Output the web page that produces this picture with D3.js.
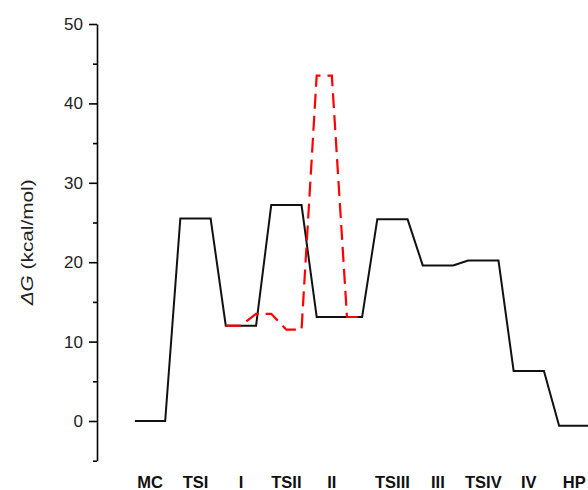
<!DOCTYPE html>
<html>
<head>
<meta charset="utf-8">
<script src="https://cdn.jsdelivr.net/npm/d3@7.9.0/dist/d3.min.js"></script>
<style>
  html, body { margin: 0; padding: 0; background: #fff; }
  svg { display: block; font-family: Arial, "Liberation Sans", sans-serif; }
</style>
</head>
<body>
<svg id="chart" width="588" height="490"></svg>
<script>
// states along the reaction coordinate and where their labels sit
const states = ["MC", "TSI", "I", "TSII", "II", "TSIII", "III", "TSIV", "IV", "HP"];
const labelPos = [1, 4, 7, 10, 13, 17, 20, 23, 26, 29];

// main pathway (black, solid)
const mainX = [0, 2, 3, 5, 6, 8, 9, 11, 12, 15, 16, 18, 19, 21, 22, 24, 25, 27, 28, 30];
const mainG = [0, 0, 25.5, 25.5, 12.0, 12.0, 27.2, 27.2, 13.1, 13.1,
               25.4, 25.4, 19.6, 19.6, 20.2, 20.2, 6.3, 6.3, -0.6, -0.6];

// alternative pathway I -> II (red, dashed)
const altX = [6, 7, 8, 9, 10, 11, 12, 13, 14, 15];
const altG = [12.0, 12.0, 13.5, 13.5, 11.5, 11.5, 43.5, 43.5, 13.1, 13.1];

const yMajor = [0, 10, 20, 30, 40, 50];
const yMinor = [-5, 5, 15, 25, 35, 45];

const svg = d3.select("#chart");

const x = d3.scaleLinear().domain([-2.5, 30]).range([97, 589.4]);
const y = d3.scaleLinear().domain([-5, 50]).range([460.7, 24]);

// y axis: major ticks with labels, minor ticks without
const yAxis = svg.append("g").attr("transform", `translate(${x(-2.5)},0)`);
yAxis.call(d3.axisLeft(y).tickValues(yMajor).tickSize(8).tickPadding(6).tickSizeOuter(0));
yAxis.select(".domain").attr("stroke", "#000").attr("stroke-width", 1.6);
yAxis.selectAll(".tick line").attr("stroke", "#000").attr("stroke-width", 1.6);
yAxis.selectAll(".tick text")
  .attr("font-size", 17)
  .attr("font-family", "Arial, 'Liberation Sans', sans-serif")
  .attr("fill", "#222");

const yMinorAxis = svg.append("g").attr("transform", `translate(${x(-2.5)},0)`);
yMinorAxis.call(d3.axisLeft(y).tickValues(yMinor).tickSize(4).tickFormat("").tickSizeOuter(0));
yMinorAxis.select(".domain").remove();
yMinorAxis.selectAll(".tick line").attr("stroke", "#000").attr("stroke-width", 1.6);

// y axis title
const yTitle = svg.append("text")
  .attr("transform", `translate(33,${y(22.5)}) rotate(-90)`)
  .attr("text-anchor", "middle")
  .attr("font-size", 17)
  .attr("fill", "#222")
  .attr("textLength", 126)
  .attr("lengthAdjust", "spacingAndGlyphs");
yTitle.append("tspan").attr("font-style", "italic").text("\u0394G");
yTitle.append("tspan").text(" (kcal/mol)");

// state labels under the plot
svg.append("g")
  .selectAll("text")
  .data(states)
  .join("text")
  .attr("x", (d, i) => x(labelPos[i]))
  .attr("y", 488)
  .attr("text-anchor", "middle")
  .attr("font-size", 16.5)
  .attr("font-weight", "bold")
  .attr("fill", "#111")
  .text(d => d);

const line = d3.line()
  .x(d => x(d[0]))
  .y(d => y(d[1]));

svg.append("path")
  .datum(d3.zip(mainX, mainG))
  .attr("d", line)
  .attr("fill", "none")
  .attr("stroke", "#111")
  .attr("stroke-width", 2)
  .attr("stroke-linejoin", "miter");

svg.append("path")
  .datum(d3.zip(altX, altG))
  .attr("d", line)
  .attr("fill", "none")
  .attr("stroke", "#ff0000")
  .attr("stroke-width", 2.2)
  .attr("stroke-dasharray", "15,7");
</script>
</body>
</html>
